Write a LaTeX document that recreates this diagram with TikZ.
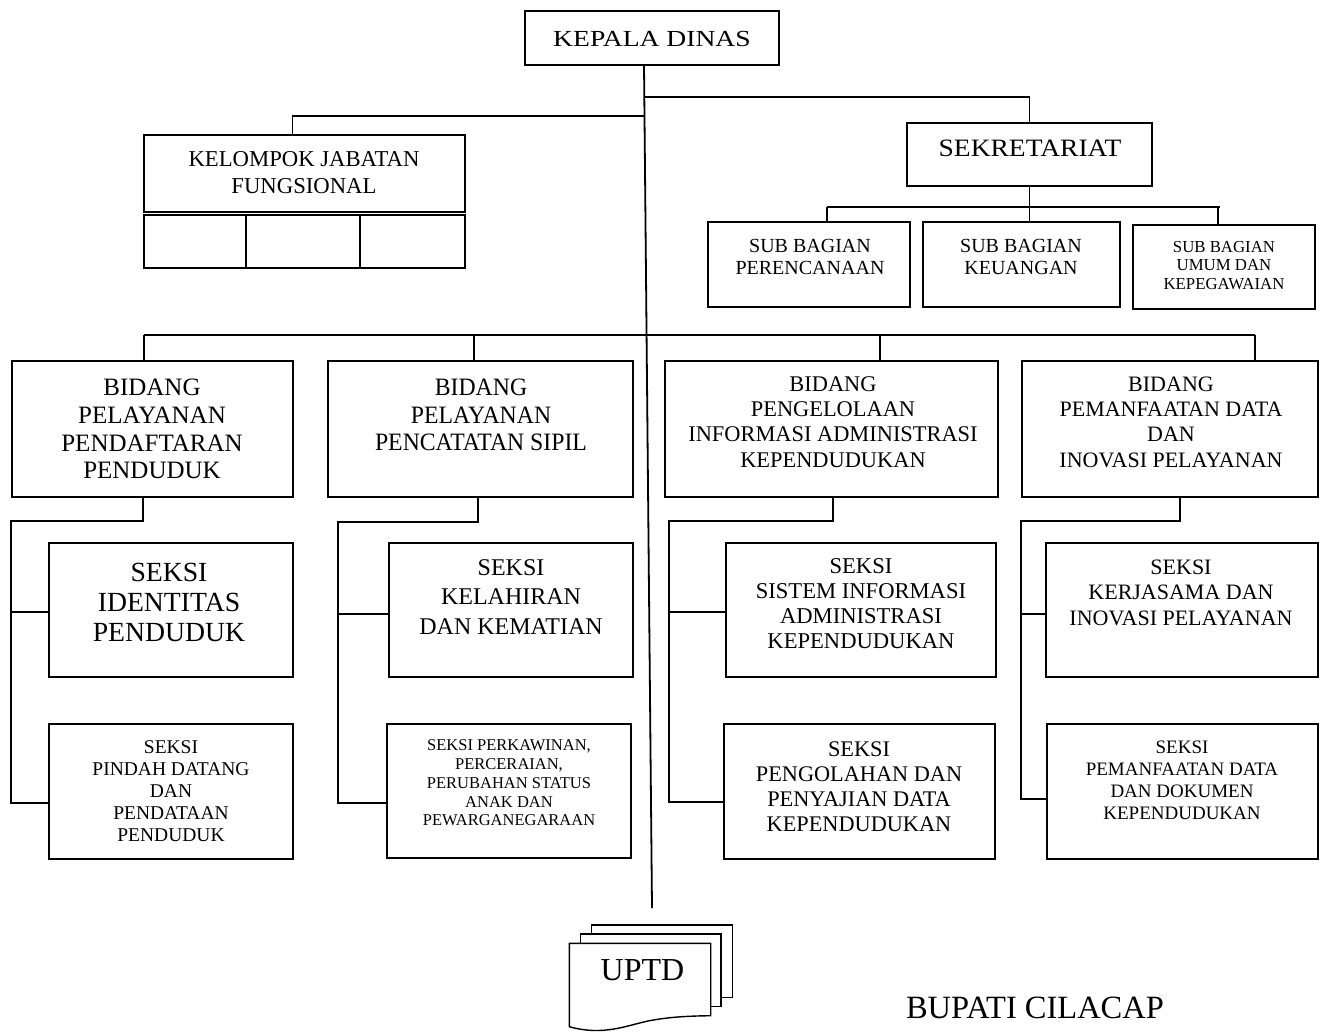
\documentclass[tikz,border=0pt]{standalone}
\usepackage{fontspec}
\setmainfont{Liberation Serif}
\newfontfamily\fW[FakeStretch=1.2]{Liberation Serif}
\newfontfamily\fV[FakeStretch=1.1]{Liberation Serif}
\newfontfamily\fC[FakeStretch=0.95]{Liberation Serif}
\newcommand{\fsz}[2]{\fontsize{#1}{#2}\selectfont}
\begin{document}
\begin{tikzpicture}[x=1pt,y=-1pt,
  box/.style={draw, line width=1.8pt, inner sep=0pt, outer sep=0pt},
  txt/.style={align=center, inner sep=0pt, outer sep=0pt},
  ln/.style={line width=1.8pt, line join=miter}]
\useasboundingbox (0,0) rectangle (1321,1033);
\fill[white] (0,0) rectangle (1321,1033);

% ---------- boxes ----------
\node[box, minimum width=254pt, minimum height=54pt] (kd) at (652,38) {};
\node[box, minimum width=321pt, minimum height=77pt] (kfg) at (304.5,173.5) {};
\node[box, minimum width=102pt, minimum height=53pt] (kc1) at (195,241.5) {};
\node[box, minimum width=114pt, minimum height=53pt] (kc2) at (303,241.5) {};
\node[box, minimum width=105pt, minimum height=53pt] (kc3) at (412.5,241.5) {};
\node[box, minimum width=245pt, minimum height=63pt] (sek) at (1029.5,154.5) {};
\node[box, minimum width=202pt, minimum height=85pt] (sb1) at (809,264.5) {};
\node[box, minimum width=197pt, minimum height=85pt] (sb2) at (1021.5,264.5) {};
\node[box, minimum width=182pt, minimum height=84pt] (sb3) at (1224,267) {};
\node[box, minimum width=281pt, minimum height=136pt] (b1) at (152.5,429) {};
\node[box, minimum width=305pt, minimum height=136pt] (b2) at (480.5,429) {};
\node[box, minimum width=333pt, minimum height=136pt] (b3) at (831.5,429) {};
\node[box, minimum width=296pt, minimum height=136pt] (b4) at (1170,429) {};
\node[box, minimum width=244pt, minimum height=134pt] (s11) at (171,610) {};
\node[box, minimum width=244pt, minimum height=135pt] (s12) at (171,791.5) {};
\node[box, minimum width=244pt, minimum height=134pt] (s21) at (511,610) {};
\node[box, minimum width=244pt, minimum height=134pt] (s22) at (509,791) {};
\node[box, minimum width=270pt, minimum height=134pt] (s31) at (861,610) {};
\node[box, minimum width=271pt, minimum height=135pt] (s32) at (859.5,791.5) {};
\node[box, minimum width=272pt, minimum height=134pt] (s41) at (1182,610) {};
\node[box, minimum width=271pt, minimum height=135pt] (s42) at (1182.5,791.5) {};

% ---------- texts ----------
\node[txt, font=\fW\fsz{23}{26}] (kdt) at (652,39) {KEPALA DINAS};
\node[txt, font=\fsz{22.7}{26.7}] (kft) at (304,172.5) {KELOMPOK JABATAN\\FUNGSIONAL};
\node[txt, font=\fV\fsz{25}{28}] (sekt) at (1030,148.5) {SEKRETARIAT};
\node[txt, font=\fsz{20}{22.5}] (sb1t) at (810,257) {SUB BAGIAN\\PERENCANAAN};
\node[txt, font=\fsz{20}{22.5}] (sb2t) at (1021,257) {SUB BAGIAN\\KEUANGAN};
\node[txt, font=\fsz{16.8}{18.8}] (sb3t) at (1224,265.5) {SUB BAGIAN\\UMUM DAN\\KEPEGAWAIAN};
\node[txt, font=\fsz{25}{27.7}] (b1t) at (152,429) {BIDANG\\PELAYANAN\\PENDAFTARAN\\PENDUDUK};
\node[txt, font=\fC\fsz{25}{27.7}] (b2t) at (481,415) {BIDANG\\PELAYANAN\\PENCATATAN SIPIL};
\node[txt, font=\fsz{22.4}{25.3}] (b3t) at (833,422) {BIDANG\\PENGELOLAAN\\INFORMASI ADMINISTRASI\\KEPENDUDUKAN};
\node[txt, font=\fsz{22}{25.3}] (b4t) at (1171,422) {BIDANG\\PEMANFAATAN DATA\\DAN\\INOVASI PELAYANAN};
\node[txt, font=\fsz{27.7}{30}] (s11t) at (169,602) {SEKSI\\IDENTITAS\\PENDUDUK};
\node[txt, font=\fsz{19.5}{22}] (s12t) at (171,791) {SEKSI\\PINDAH DATANG\\DAN\\PENDATAAN\\PENDUDUK};
\node[txt, font=\fsz{24}{29.5}] (s21t) at (511,597) {SEKSI\\KELAHIRAN\\DAN KEMATIAN};
\node[txt, font=\fsz{16.5}{18.8}] (s22t) at (509,783) {SEKSI PERKAWINAN,\\PERCERAIAN,\\PERUBAHAN STATUS\\ANAK DAN\\PEWARGANEGARAAN};
\node[txt, font=\fsz{22.6}{25}] (s31t) at (861,604) {SEKSI\\SISTEM INFORMASI\\ADMINISTRASI\\KEPENDUDUKAN};
\node[txt, font=\fsz{22.3}{25}] (s32t) at (859,786.5) {SEKSI\\PENGOLAHAN DAN\\PENYAJIAN DATA\\KEPENDUDUKAN};
\node[txt, font=\fsz{22}{25.5}] (s41t) at (1181,592.5) {SEKSI\\KERJASAMA DAN\\INOVASI PELAYANAN};
\node[txt, font=\fsz{19}{22}] (s42t) at (1182,780) {SEKSI\\PEMANFAATAN DATA\\DAN DOKUMEN\\KEPENDUDUKAN};

% ---------- top connectors ----------
\coordinate (mend) at (652,908);
\draw[ln] ([xshift=-8pt]kd.south) -- (mend);
\coordinate (js) at (645,97);
\draw[ln] (js) -| (sek.north);
\coordinate (jk) at (645,116);
\draw[ln] (jk) -| ([xshift=-12pt]kfg.north);
\draw[ln] (sek.south) -- (sek.south |- sb2.north);
\coordinate (sbl) at (827,207);
\coordinate (sbr) at (1220,207);
\coordinate (sbt) at (1218,207);
\draw[ln] (sbl) -- (sbr);
\draw[ln] (sbl) -- (sbl |- sb1.north);
\draw[ln] (sbt) -- (sbt |- sb3.north);

% ---------- bidang bus ----------
\coordinate (bb1) at (144,335);
\coordinate (bb2) at (474,335);
\coordinate (bb3) at (880,335);
\coordinate (bb4) at (1255,335);
\draw[ln] (bb1) -- (bb4);
\draw[ln] (bb1) -- (bb1 |- b1.north);
\draw[ln] (bb2) -- (bb2 |- b2.north);
\draw[ln] (bb3) -- (bb3 |- b3.north);
\draw[ln] (bb4) -- (bb4 |- b4.north);

% ---------- seksi connectors ----------
\coordinate (c1a) at (143,521); \coordinate (c1l) at (11,521);
\coordinate (c1b) at (11,803);  \coordinate (m1) at (11,612);
\draw[ln] (c1a |- b1.south) -- (c1a) -- (c1l) -- (c1b) -- (c1b -| s12.west);
\draw[ln] (m1) -- (m1 -| s11.west);

\coordinate (c2a) at (478,522); \coordinate (c2l) at (338,522);
\coordinate (c2b) at (338,803); \coordinate (m2) at (338,614);
\draw[ln] (c2a |- b2.south) -- (c2a) -- (c2l) -- (c2b) -- (c2b -| s22.west);
\draw[ln] (m2) -- (m2 -| s21.west);

\coordinate (c3a) at (833,521); \coordinate (c3l) at (669,521);
\coordinate (c3b) at (669,802); \coordinate (m3) at (669,612);
\draw[ln] (c3a |- b3.south) -- (c3a) -- (c3l) -- (c3b) -- (c3b -| s32.west);
\draw[ln] (m3) -- (m3 -| s31.west);

\coordinate (c4a) at (1180,521); \coordinate (c4l) at (1021,521);
\coordinate (c4b) at (1021,799); \coordinate (m4) at (1021,614);
\draw[ln] (c4a |- b4.south) -- (c4a) -- (c4l) -- (c4b) -- (c4b -| s42.west);
\draw[ln] (m4) -- (m4 -| s41.west);

% ---------- UPTD (multi-document) ----------
\draw[line width=1.4pt, fill=white] (591.7,925) rectangle (732.7,997.7);
\draw[line width=1.4pt, fill=white] (580.7,934) rectangle (721,1006.7);
\draw[line width=1.4pt, fill=white] (569.3,943.3) -- (710.7,943.3) -- (710.7,1015.7)
  .. controls (688,1016) and (668,1017) .. (648,1021)
  .. controls (625,1026) and (603,1036) .. (569.3,1026.7) -- cycle;
\node[txt, font=\fsz{32}{36}] (uptd) at (642.5,970.5) {UPTD};

% ---------- BUPATI ----------
\node[txt, font=\fsz{32.5}{36}] (bup) at (1035,1008) {BUPATI CILACAP};
\end{tikzpicture}
\end{document}
